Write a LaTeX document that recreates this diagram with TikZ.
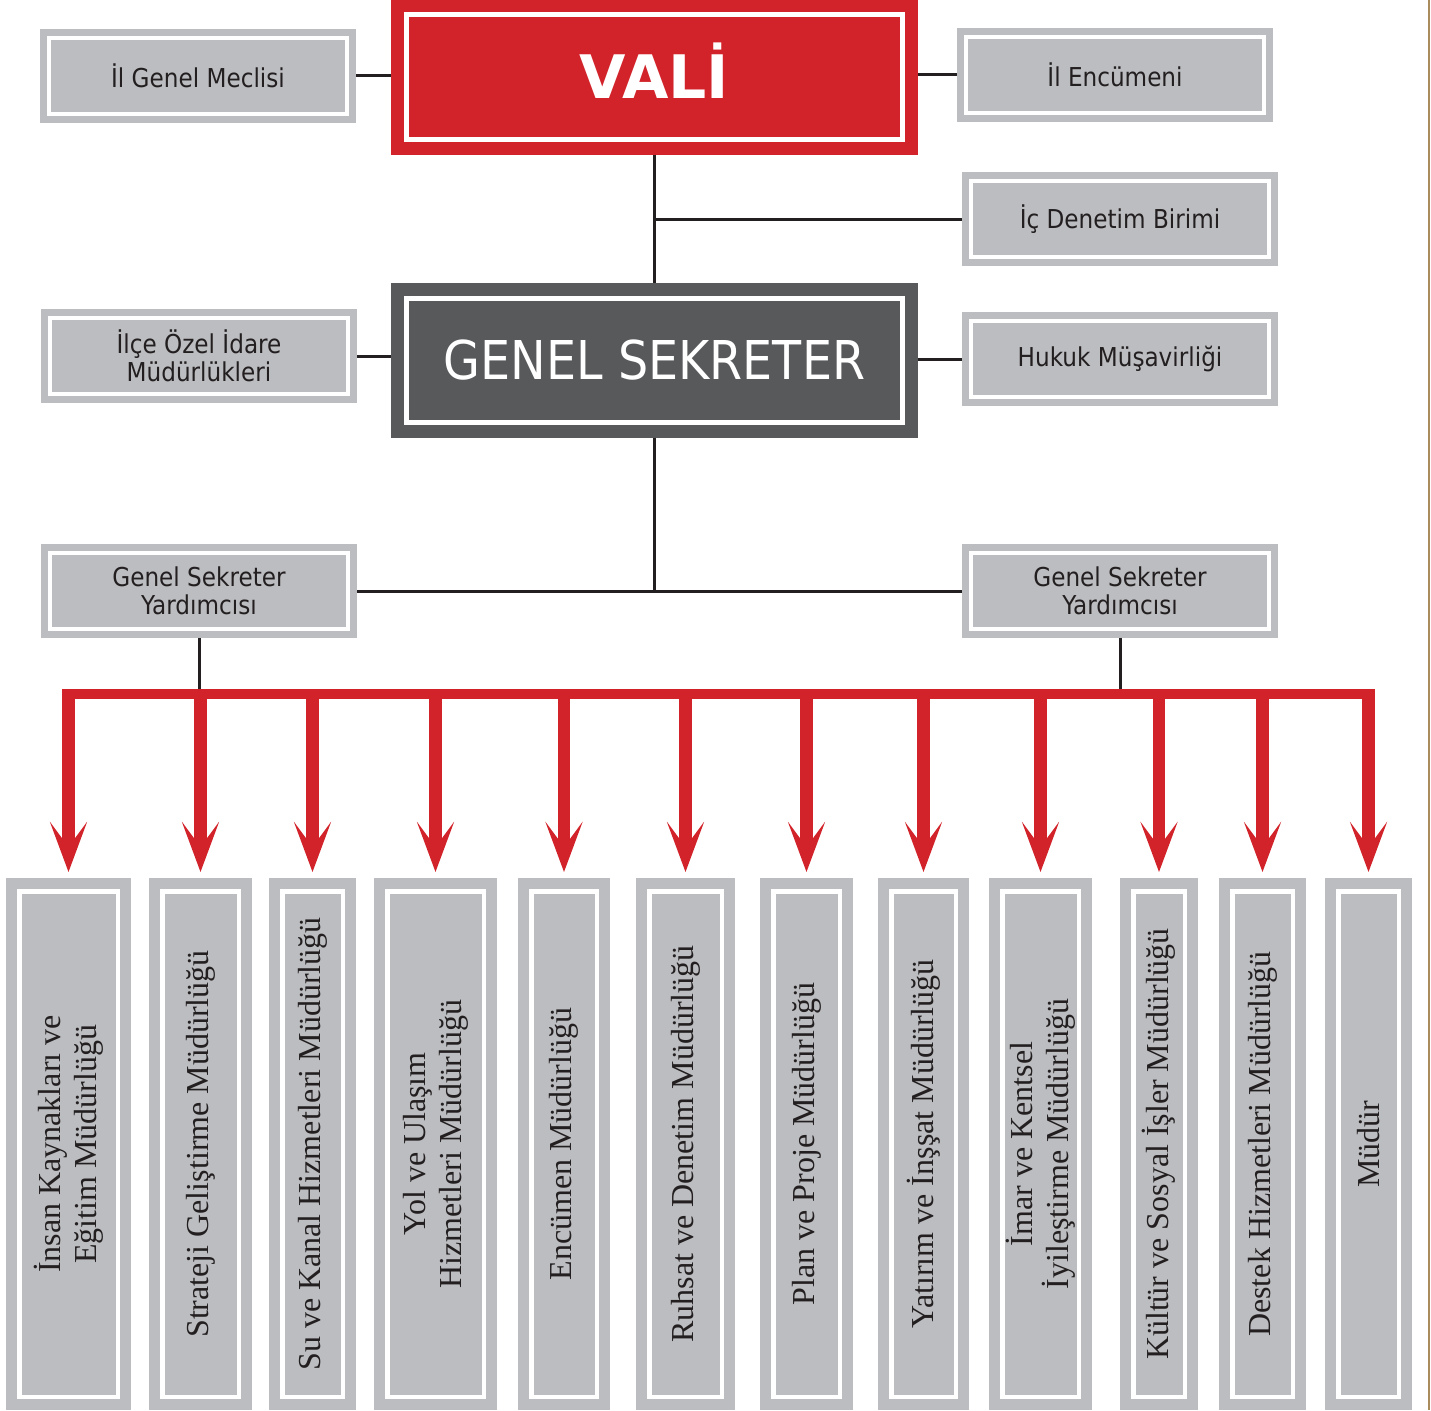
\documentclass[tikz,border=0pt]{standalone}
\usepackage{fontspec}
\usepackage{tikz}
\usetikzlibrary{arrows.meta}
\newfontfamily\tahoma{DejaVu Sans}[FakeStretch=0.89]
\newfontfamily\tahomawide{DejaVu Sans}
\newfontfamily\timesf{Liberation Serif}
\definecolor{valired}{HTML}{D2232A}
\definecolor{boxgray}{HTML}{BCBDC0}
\definecolor{darkbox}{HTML}{58595B}
\definecolor{ink}{HTML}{231F20}
\definecolor{edgebrown}{HTML}{A98B5C}
\tikzset{
  smallbox/.style={draw=boxgray, fill=boxgray, double=white, double distance=4pt, line width=7pt,
    outer sep=9pt, inner sep=0pt, minimum width=298pt, minimum height=76pt, align=center,
    text=ink, font=\tahoma\fontsize{26}{28}\selectfont},
  chiefbox/.style={double=white, double distance=5pt, line width=13pt, outer sep=15.5pt,
    inner sep=0pt, minimum width=496pt, minimum height=124pt, text=white},
  unitbox/.style={draw=boxgray, fill=boxgray, double=white, double distance=4.5pt, line width=11pt,
    outer sep=13.25pt, inner sep=0pt, minimum height=505.5pt},
  unittext/.style={rotate=90, align=center, inner sep=0pt, text=ink, font=\timesf\fontsize{32}{36}\selectfont},
  link/.style={draw=ink, line width=3pt},
  feed/.style={draw=valired, line width=12.5pt, -{Stealth[length=50pt,width=37pt,inset=25pt]}, shorten >=6pt},
  feedbar/.style={draw=valired, line width=10pt}
}
\begin{document}
\begin{tikzpicture}[x=1pt,y=-1pt]
  \useasboundingbox (0,0) rectangle (1431,1410);
  % top level
  \node[chiefbox, draw=valired, fill=valired, text height=44pt, text depth=0pt,
    font=\tahomawide\bfseries\fontsize{60}{62}\selectfont] (vali) at (654.5,77) {VALİ};
  \node[chiefbox, draw=darkbox, fill=darkbox, font=\tahoma\fontsize{53.5}{56}\selectfont] (gs) at (654.5,360) {GENEL SEKRETER};
  % side boxes
  \node[smallbox] (meclis) at (198,76) {İl Genel Meclisi};
  \node[smallbox] (encumen) at (1115,75) {İl Encümeni};
  \node[smallbox] (denetim) at (1120,219) {İç Denetim Birimi};
  \node[smallbox] (ilce) at (199,356) {İlçe Özel İdare\\Müdürlükleri};
  \node[smallbox] (hukuk) at (1120,359) {Hukuk Müşavirliği};
  \node[smallbox] (gsyL) at (199,591) {Genel Sekreter\\Yardımcısı};
  \node[smallbox] (gsyR) at (1120,591) {Genel Sekreter\\Yardımcısı};
  % connectors
  \draw[link] (meclis.east) -- (meclis.east -| vali.west);
  \draw[link] (vali.east |- encumen.west) -- (encumen.west);
  \draw[link] (vali.south) -- (gs.north);
  \draw[link] (vali.south |- denetim.west) -- (denetim.west);
  \draw[link] (ilce.east) -- (ilce.east -| gs.west);
  \draw[link] (gs.east |- hukuk.west) -- (hukuk.west);
  \draw[link] (gs.south) -- (gs.south |- gsyL.east);
  \draw[link] (gsyL.east) -- (gsyR.west);
  \coordinate (bar) at (0,689);
  \draw[link] (gsyL.south) -- (gsyL.south |- bar);
  \draw[link] (gsyR.south) -- (gsyR.south |- bar);
  % directorates
  \foreach \xa/\xb/\dept [count=\i] in {
      6/131/{İnsan Kaynakları ve\\Eğitim Müdürlüğü},
      149/252/{Strateji Geliştirme Müdürlüğü},
      269/356/{Su ve Kanal Hizmetleri Müdürlüğü},
      374/497/{Yol ve Ulaşım\\Hizmetleri Müdürlüğü},
      518/610/{Encümen Müdürlüğü},
      636/735/{Ruhsat ve Denetim Müdürlüğü},
      760/853/{Plan ve Proje Müdürlüğü},
      878/969/{Yatırım ve İnşşat Müdürlüğü},
      989/1092/{İmar ve Kentsel\\İyileştirme Müdürlüğü},
      1120/1198/{Kültür ve Sosyal İşler Müdürlüğü},
      1219/1306/{Destek Hizmetleri Müdürlüğü},
      1325/1412/{Müdür}}{
    \node[unitbox, minimum width={\xb-\xa-26.5}] (b\i) at ({(\xa+\xb)/2},1144) {};
    \node[unittext] (t\i) at (b\i) {\dept};
    \draw[feed] (b\i.north |- bar) -- (b\i.north);
  }
  \draw[feedbar] ([xshift=-6.25pt,yshift=-5pt]b1.north |- bar) -- ([xshift=6.25pt,yshift=-5pt]b12.north |- bar);
  % page edge
  \draw[edgebrown, line width=1.5pt] (1429,0) -- (1429,1410);
\end{tikzpicture}
\end{document}
